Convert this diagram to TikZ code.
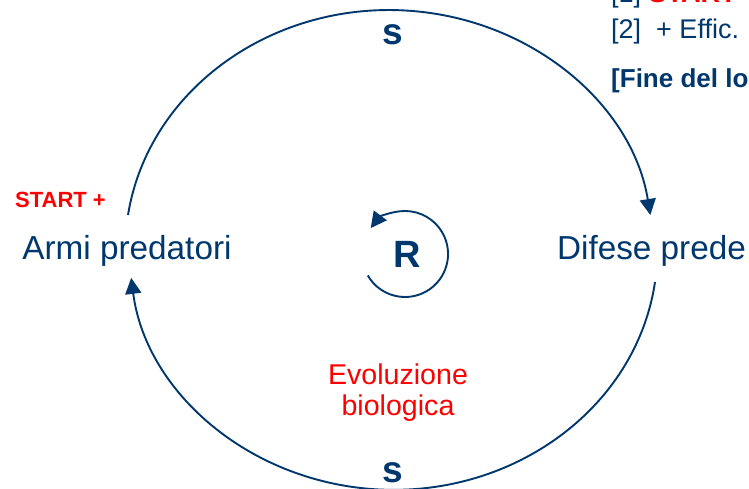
\documentclass[tikz,border=0pt]{standalone}
\usepackage{fontspec}
\setmainfont{Liberation Sans}
\usetikzlibrary{arrows.meta}
\definecolor{dblue}{RGB}{0,56,110}
\definecolor{sred}{RGB}{255,0,0}
\begin{document}
\begin{tikzpicture}[x=1pt,y=1pt,
  conn/.style={draw=dblue,line width=1.9pt,-{Triangle[length=16pt,width=16pt]}},
  lbl/.style={text=dblue,font=\fontsize{33.3}{40}\selectfont,inner sep=0pt,anchor=base},
  pol/.style={text=dblue,font=\bfseries\fontsize{37}{40}\selectfont,inner sep=0pt,anchor=base},
  redtxt/.style={text=sred,font=\fontsize{28.6}{31}\selectfont,inner sep=0pt,anchor=base},
  note/.style={text=dblue,font=\fontsize{27}{30}\selectfont,inner sep=0pt,anchor=base west}]
\useasboundingbox (0,0) rectangle (749,488);
\clip (0,0) rectangle (749,488);
\fill[white] (0,0) rectangle (749,488);
% nodes
\node[lbl] (armi) at (127,229) {Armi predatori};
\node[lbl] (difese) at (651.5,229) {Difese prede};
\node[pol,font=\bfseries\fontsize{38}{40}\selectfont] (R) at (407,221) {R};
\node[pol] (stop) at (393,443) {s};
\node[pol] (sbot) at (393,6) {s};
\node[text=sred,font=\bfseries\fontsize{22}{26}\selectfont,inner sep=0pt,anchor=base west] (start) at (15,280) {START +};
\node[redtxt] (evo1) at (398,104) {Evoluzione};
\node[redtxt] (evo2) at (398,73) {biologica};
\node[note] (n1) at (611,485) {[1] {\color{sred}\bfseries START}};
\node[note] (n2) at (611,449) {[2]\ \ + Effic.};
\node[note,font=\bfseries\fontsize{26}{30}\selectfont] (n3) at (611,400) {[Fine del lo};
% connectors
\coordinate (topstart) at (128,273);
\coordinate (botstart) at (655,206);
\coordinate (rstart) at (367.8,212.5);
\draw[conn] (topstart) arc[start angle=171.6,end angle=8.4,x radius=264,y radius=240];
\draw[conn] (botstart) arc[start angle=-7.7,end angle=-173.3,x radius=264,y radius=240];
\draw[conn] (rstart) arc[start angle=210,end angle=503,radius=43];
\end{tikzpicture}
\end{document}
